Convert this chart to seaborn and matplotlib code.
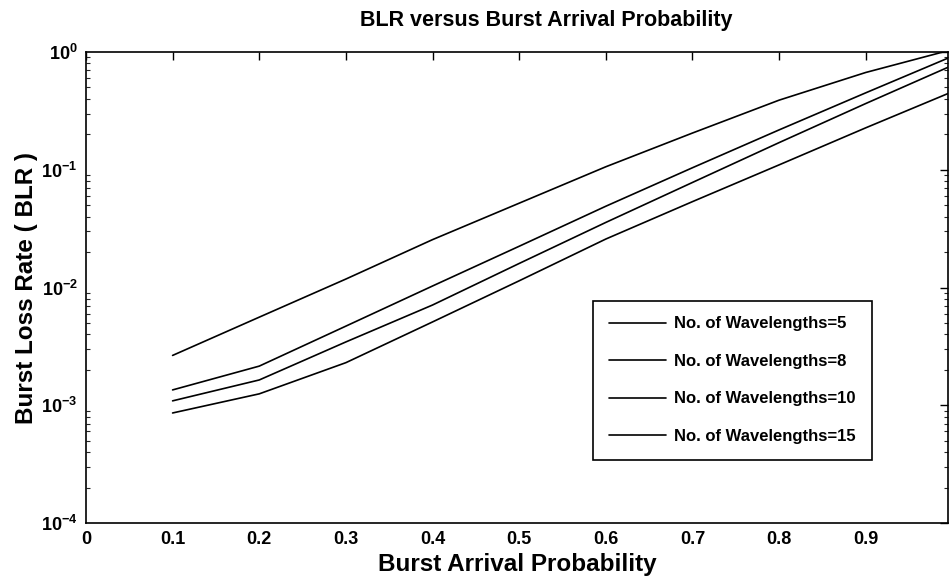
import pandas as pd
import matplotlib
matplotlib.use('Agg')
import matplotlib.pyplot as plt
import seaborn as sns
from matplotlib.ticker import LogLocator, NullFormatter

# values (log-scale y)
arrival_prob = [0.1, 0.2, 0.3, 0.4, 0.5, 0.6, 0.7, 0.8, 0.9, 1.0]
blr_w5 = [2.65e-3, 5.6e-3, 1.18e-2, 2.55e-2, 5.2e-2, 0.106, 0.205, 0.39, 0.67, 1.05]
blr_w8 = [1.35e-3, 2.15e-3, 4.7e-3, 1.03e-2, 2.24e-2, 0.049, 0.104, 0.218, 0.45, 0.92]
blr_w10 = [1.09e-3, 1.64e-3, 3.45e-3, 7.1e-3, 1.6e-2, 0.0357, 0.078, 0.17, 0.365, 0.77]
blr_w15 = [8.6e-4, 1.25e-3, 2.3e-3, 5.1e-3, 1.14e-2, 0.0258, 0.0536, 0.11, 0.227, 0.46]
series_labels = ["No. of Wavelengths=5", "No. of Wavelengths=8",
                 "No. of Wavelengths=10", "No. of Wavelengths=15"]
x_ticks = [0, 0.1, 0.2, 0.3, 0.4, 0.5, 0.6, 0.7, 0.8, 0.9]

rows = []
for label, vals in zip(series_labels, [blr_w5, blr_w8, blr_w10, blr_w15]):
    for x, y in zip(arrival_prob, vals):
        rows.append({'p': x, 'BLR': y, 'series': label})
df = pd.DataFrame(rows)

sns.set_theme(style="white")
plt.rcParams['font.family'] = ['Liberation Sans', 'DejaVu Sans']
plt.rcParams['font.weight'] = 'bold'
plt.rcParams['text.color'] = 'black'
plt.rcParams['axes.labelcolor'] = 'black'

fig = plt.figure(figsize=(9.53, 5.81), dpi=100)
ax = fig.add_axes([0.0902, 0.0998, 0.9046, 0.8107])

sns.lineplot(data=df, x='p', y='BLR', hue='series', hue_order=series_labels,
             palette=['black'] * 4, linewidth=1.2, ax=ax)

ax.set_yscale('log')
ax.set_ylim(1e-4, 1)
ax.set_xlim(0, 0.995)
ax.set_xticks(x_ticks)
ax.set_xticklabels([f"{t:g}" for t in x_ticks])
ax.yaxis.set_major_locator(LogLocator(base=10, numticks=10))
ax.yaxis.set_minor_locator(LogLocator(base=10, subs=range(2, 10), numticks=20))
ax.yaxis.set_minor_formatter(NullFormatter())

ax.tick_params(axis='both', which='major', direction='in', length=6, width=1,
               top=True, right=True, labelsize=13, colors='black', pad=6)
ax.tick_params(axis='y', which='minor', direction='in', length=3, width=0.8,
               left=True, right=True)
for s in ax.spines.values():
    s.set_color('black')
    s.set_linewidth(1.2)

ax.set_title("BLR versus Burst Arrival Probability", fontsize=15.5,
             fontweight='bold', pad=19, x=0.534)
ax.set_xlabel("Burst Arrival Probability", fontsize=17.5, fontweight='bold', labelpad=3)
ax.set_ylabel("Burst Loss Rate ( BLR )", fontsize=17.5, fontweight='bold', labelpad=2)

leg = ax.legend(loc='upper left', bbox_to_anchor=(0.579, 0.49), fontsize=12,
                frameon=True, fancybox=False, edgecolor='black', framealpha=1,
                labelspacing=1.35, handlelength=3.4, handletextpad=0.5,
                borderpad=0.95, title=None)
leg.get_frame().set_linewidth(1.2)
for t in leg.get_texts():
    t.set_fontweight('bold')
    t.set_color('black')

fig.savefig('out.png', dpi=100)
